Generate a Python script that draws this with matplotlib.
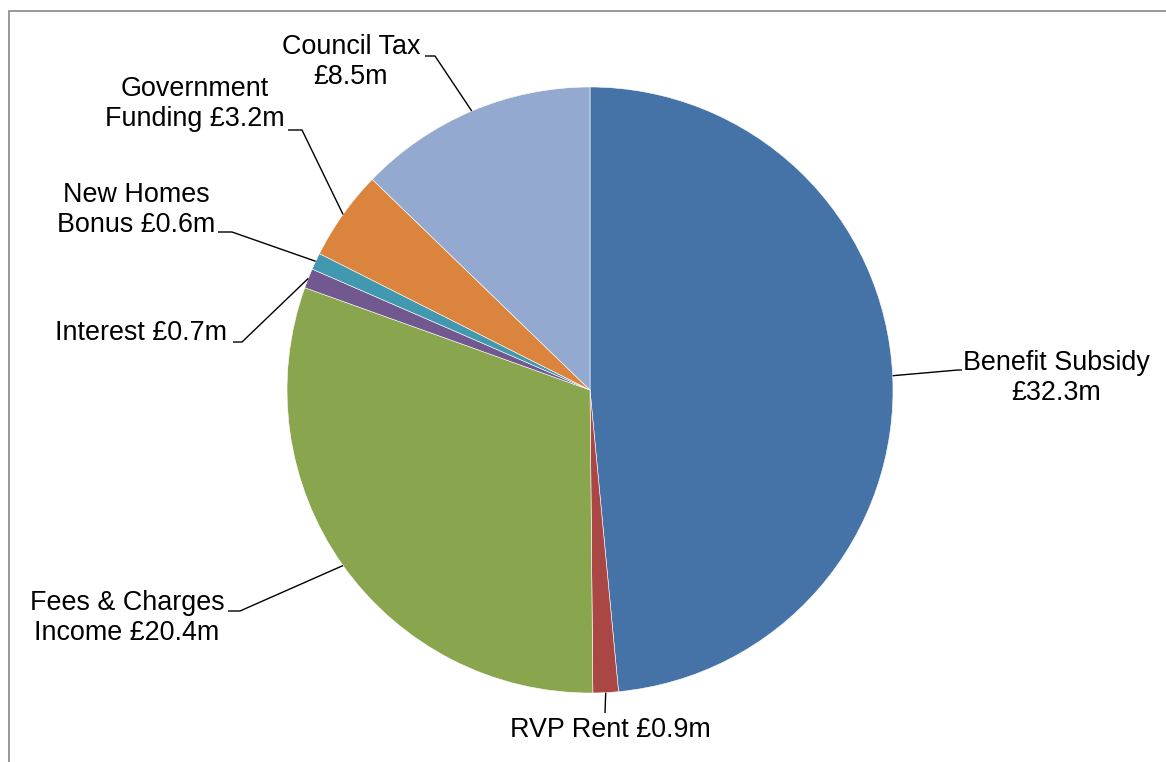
import numpy as np
import matplotlib
matplotlib.use("Agg")
import matplotlib.pyplot as plt
from matplotlib.patches import Rectangle

# ---- data ----
categories = ["Benefit Subsidy", "RVP Rent", "Fees & Charges Income", "Interest",
              "New Homes Bonus", "Government Funding", "Council Tax"]
values = [32.3, 0.9, 20.4, 0.7, 0.6, 3.2, 8.5]
labels = ["Benefit Subsidy\n£32.3m", "RVP Rent £0.9m", "Fees & Charges\nIncome £20.4m",
          "Interest £0.7m", "New Homes\nBonus £0.6m", "Government\nFunding £3.2m",
          "Council Tax\n£8.5m"]
colors = ["#4572A7", "#AA4643", "#89A54E", "#71588F", "#4198AF", "#DB843D", "#93A9CF"]

W, H = 1166, 762
plt.rcParams['font.family'] = ['Liberation Sans', 'DejaVu Sans']

fig = plt.figure(figsize=(W / 100, H / 100), dpi=100)
ax = fig.add_axes([0, 0, 1, 1])
ax.set_xlim(0, W)
ax.set_ylim(0, H)
ax.set_aspect('equal')
ax.axis('off')

def py(y):
    return H - y

cx, cy, R = 590, py(390), 303
wedges, _ = ax.pie(values, colors=colors, startangle=90, counterclock=False,
                   center=(cx, cy), radius=R,
                   wedgeprops=dict(edgecolor='white', linewidth=0.4))
ax.set_xlim(0, W)
ax.set_ylim(0, H)

# label layout: (text x, text y, ha, elbow x, elbow y, end x)
layout = [
    (1056, 378, 'center', 958, 370, 962),
    (610, 730, 'center', 605, 713, 605),
    (127, 618, 'center', 240, 611, 228),
    (141, 333, 'center', 242, 342, 233),
    (136, 210, 'center', 232, 232, 218),
    (195, 104, 'center', 302, 130, 288),
    (351, 62, 'center', 435, 56, 425),
]

for w, lab, (tx, ty, ha, ex, ey, endx) in zip(wedges, labels, layout):
    mid = np.deg2rad((w.theta1 + w.theta2) / 2)
    ax_, ay_ = cx + R * np.cos(mid), cy + R * np.sin(mid)
    ax.plot([ax_, ex, endx], [ay_, py(ey), py(ey)], color='black', lw=1.0,
            solid_capstyle='butt')
    ax.text(tx, py(ty), lab, ha=ha, va='center', fontsize=19.4, color='black',
            linespacing=1.2)

# chart border (partially clipped by image edge)
ax.add_patch(Rectangle((8.5, -50), 1300, py(10.5) + 50, fill=False,
                       edgecolor='#868686', linewidth=1.2, clip_on=True))

fig.savefig("out.png", dpi=100, facecolor='white')
